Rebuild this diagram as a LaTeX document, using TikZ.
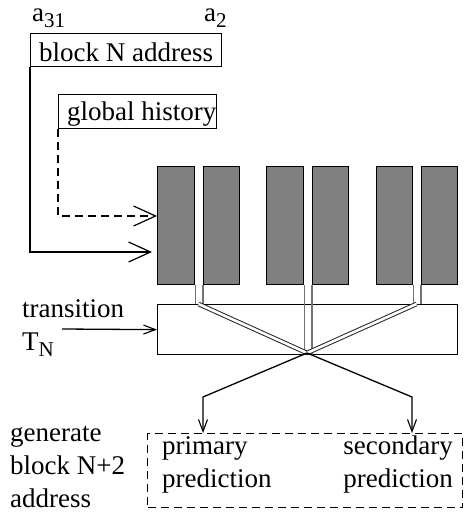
\documentclass[tikz,border=0pt]{standalone}
\usepackage{fontspec}
\setmainfont{Liberation Serif}
\newfontfamily\timesfont{Liberation Serif}
\usetikzlibrary{arrows.meta}
\newcommand{\subtxt}[1]{\raisebox{-6pt}{\fontsize{21}{21}\selectfont #1}}
\begin{document}
\begin{tikzpicture}[x=1pt,y=-1pt,
  txt/.style={inner sep=0pt, anchor=base west, font=\timesfont\fontsize{27}{32.5}\selectfont},
  box/.style={draw, line width=1.3pt, inner sep=0pt, anchor=north west},
  blk/.style={draw, line width=1.3pt, fill=black!50, inner sep=0pt, anchor=north west, minimum height=118pt},
  bigarr/.style={-{Straight Barb[length=22pt,width=20pt,line width=1.2pt]}, line width=1.3pt},
  smallarr/.style={-{Straight Barb[length=12pt,width=9pt,line width=1.1pt]}, line width=1.3pt},
  wire/.style={draw=black!55, line width=1.2pt},
  dbl/.style={double=white, double distance=2.6pt, line width=1pt, draw=black!85}
]
\useasboundingbox (0,0) rectangle (466,514);
% labels a31, a2
\node[txt] (a31) at (32,21) {a\subtxt{31}};
\node[txt] (a2) at (204,21) {a\subtxt{2}};
% address and history boxes
\node[box, minimum width=191pt, minimum height=33pt] (addr) at (30,33) {};
\node[txt] (addrt) at (39,61) {block N address};
\node[box, minimum width=158pt, minimum height=34pt] (hist) at (58,94) {};
\node[txt] (histt) at (67,120) {global history};
% blocks
\node[blk, minimum width=37pt] (b1) at (157,166) {};
\node[blk, minimum width=36pt] (b2) at (203,166) {};
\node[blk, minimum width=37pt] (b3) at (266,166) {};
\node[blk, minimum width=36pt] (b4) at (312,166) {};
\node[blk, minimum width=36pt] (b5) at (376,166) {};
\node[blk, minimum width=36pt] (b6) at (421,166) {};
% transition box
\node[box, minimum width=300pt, minimum height=50pt] (trans) at (157,304) {};
\node[txt] (transt) at (22,317) {transition};
\node[txt] (tn) at (22,350) {T\subtxt{N}};
\coordinate (tstart) at (62,329);
\draw[smallarr] (tstart) -- (trans.west);
% inputs
\coordinate (in1) at (152,252);
\coordinate (in2) at (157,216);
\draw[bigarr] (addr.south west) |- (in1);
\draw[bigarr, dashed, dash pattern=on 8pt off 5pt] (hist.south west) |- (in2);
% wires
\coordinate (c) at (307,353);
\draw[wire] (b1.south east) -- (b1.south east |- trans.north);
\draw[wire] (b2.south west) -- (b2.south west |- trans.north);
\draw[wire] (b5.south east) -- (b5.south east |- trans.north);
\draw[wire] (b6.south west) -- (b6.south west |- trans.north);
\draw[wire] (b3.south east) -- (b3.south east |- trans.south);
\draw[wire] (b4.south west) -- (b4.south west |- trans.south);
\draw[dbl] (198.5,304) -- (c);
\draw[dbl] (416.5,304) -- (c);
% outputs
\node[box, dashed, dash pattern=on 8pt off 5pt, minimum width=315pt, minimum height=74pt] (pred) at (147,433) {};
\coordinate (o1) at (203,397);
\coordinate (o2) at (412,397);
\draw[smallarr] (c) -- (o1) -- (o1 |- pred.north);
\draw[smallarr] (c) -- (o2) -- (o2 |- pred.north);
\node[txt] (p1) at (162,454) {primary};
\node[txt] (p2) at (162,487) {prediction};
\node[txt, anchor=base east] (s1) at (453,454) {secondary};
\node[txt, anchor=base east] (s2) at (453,487) {prediction};
\node[txt] (g1) at (10,441) {generate};
\node[txt] (g2) at (10,474) {block N+2};
\node[txt] (g3) at (10,507) {address};
\end{tikzpicture}
\end{document}
